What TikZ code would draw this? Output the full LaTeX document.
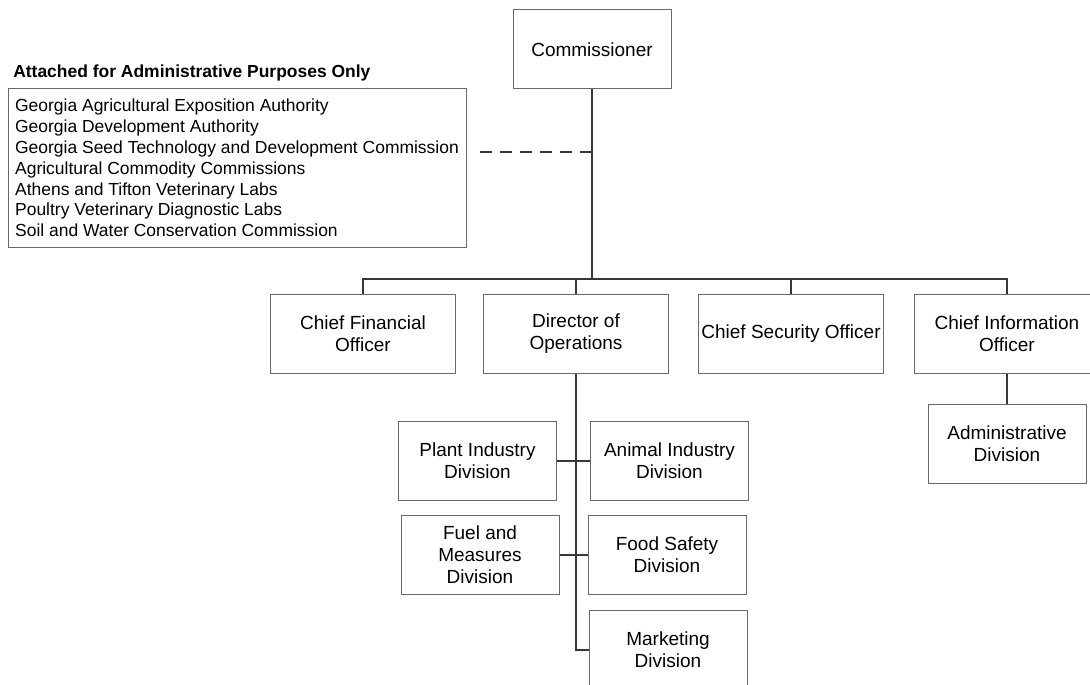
\documentclass[tikz,border=0pt]{standalone}
\usepackage{fontspec}
\setmainfont{Liberation Sans}
\usepackage{tikz}

\definecolor{boxgray}{RGB}{105,105,105}
\definecolor{linegray}{RGB}{55,55,55}

\begin{document}
\begin{tikzpicture}[x=0.75pt, y=-0.75pt,
		box/.style={rectangle, draw=boxgray, line width=0.75pt, minimum width=118.5pt, minimum height=59.25pt, inner xsep=1.5pt, align=center, font=\fontsize{14.25}{16.5}\selectfont},
		widebox/.style={box, minimum width=138.75pt},
		listbox/.style={rectangle, draw=boxgray, line width=0.75pt, minimum width=343.5pt, inner xsep=3.75pt, minimum height=118.5pt, align=left, font=\fontsize{13.1}{15.6}\selectfont},
		conn/.style={draw=linegray, line width=1.5pt},
		dashlink/.style={draw=linegray, line width=1.5pt, dash pattern=on 9pt off 6pt}]
		\clip (0,0) rectangle (1090,685);
		
		%Nodes
		\node[box] (comm) at (592,49.5) {Commissioner};
		\node[anchor=base west, inner sep=0pt, font=\bfseries\fontsize{13.1}{15.6}\selectfont] (title) at (13,78) {Attached for Administrative Purposes Only};
		\node[listbox] (attached) at (237,168) {Georgia Agricultural Exposition Authority\\
			Georgia Development Authority\\
			Georgia Seed Technology and Development Commission\\
			Agricultural Commodity Commissions\\
			Athens and Tifton Veterinary Labs\\
			Poultry Veterinary Diagnostic Labs\\
			Soil and Water Conservation Commission};
		
		\node[widebox] (cfo) at (363,333.5) {Chief Financial\\Officer};
		\node[widebox] (dir) at (576,333.5) {Director of\\Operations};
		\node[widebox] (cso) at (791,333.5) {Chief Security Officer};
		\node[widebox] (cio) at (1007,333.5) {Chief Information\\Officer};
		\node[box] (adm) at (1007,444) {Administrative\\Division};
		
		\node[box] (plant) at (477.5,460.5) {Plant Industry\\Division};
		\node[box] (animal) at (669.5,460.5) {Animal Industry\\Division};
		\node[box] (fuel) at (480,555) {Fuel and\\Measures\\Division};
		\node[box] (food) at (667,555) {Food Safety\\Division};
		\node[box] (mkt) at (668,649.5) {Marketing\\Division};
		
		\coordinate (bus) at (363,279);
		\coordinate (dashend) at (480,152);
		
		%Lines
		\draw[conn] (comm.south) -- (comm.south |- bus);
		\draw[conn] (cfo.north) |- (bus) -| (cio.north);
		\foreach \n in {dir,cso}
			\draw[conn] (\n.north) -- (\n.north |- bus);
		\draw[dashlink] (dashend) -- (dashend -| comm.south);
		\draw[conn] (cio.south) -- (adm.north);
		\draw[conn] (dir.south) |- (mkt.west);
		\draw[conn] (plant.east) -- (animal.west);
		\draw[conn] (fuel.east) -- (food.west);
	\end{tikzpicture}
\end{document}
